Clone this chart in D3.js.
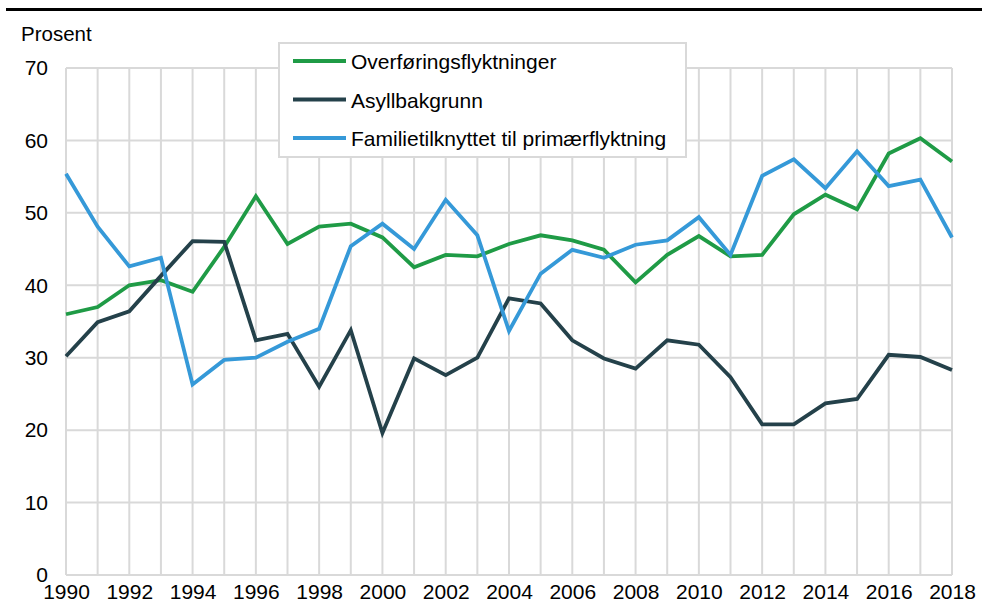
<!DOCTYPE html>
<html>
<head>
<meta charset="utf-8">
<script src="https://cdn.jsdelivr.net/npm/d3@7"></script>
<style>
  body { margin: 0; background: #fff; }
  text { font-family: "Liberation Sans", Arial, sans-serif; }
</style>
</head>
<body>
<div id="chart"></div>
<script>
// data
var years = d3.range(1990, 2019);
var overforing = [36.0, 37.0, 40.0, 40.7, 39.1, 45.3, 52.3, 45.7, 48.1, 48.5, 46.6, 42.5, 44.2, 44.0, 45.7,
  46.9, 46.2, 44.9, 40.4, 44.2, 46.8, 44.0, 44.2, 49.8, 52.5, 50.5, 58.2, 60.3, 57.1];
var asyl = [30.2, 34.9, 36.4, 41.3, 46.1, 46.0, 32.4, 33.3, 26.0, 33.8, 19.6, 29.9, 27.6, 30.0, 38.2,
  37.5, 32.4, 29.9, 28.5, 32.4, 31.8, 27.3, 20.8, 20.8, 23.7, 24.3, 30.4, 30.1, 28.3];
var familie = [55.4, 48.1, 42.6, 43.8, 26.3, 29.7, 30.0, 32.2, 34.0, 45.4, 48.5, 45.0, 51.8, 46.9, 33.7,
  41.6, 44.9, 43.8, 45.6, 46.2, 49.4, 44.2, 55.1, 57.4, 53.4, 58.5, 53.7, 54.6, 46.6];
var seriesNames = ["Overføringsflyktninger", "Asyllbakgrunn", "Familietilknyttet til primærflyktning"];
var colors = ["#1f9b46", "#24414a", "#3599d8"];
var yTicks = [0, 10, 20, 30, 40, 50, 60, 70];

var svgWidth = 982, svgHeight = 603;
var margin = { top: 68, right: 30, bottom: 28, left: 66 };
var chartWidth = svgWidth - margin.left - margin.right;
var chartHeight = svgHeight - margin.top - margin.bottom;

var svg = d3.select("#chart").append("svg")
  .attr("width", svgWidth)
  .attr("height", svgHeight);

// rule under the (cropped) title
svg.append("rect")
  .attr("x", 6).attr("y", 8)
  .attr("width", svgWidth - 6).attr("height", 3)
  .attr("fill", "#000");

var chartGroup = svg.append("g")
  .attr("transform", `translate(${margin.left}, ${margin.top})`);

var xScale = d3.scaleLinear().domain([1990, 2018]).range([0, chartWidth]);
var yScale = d3.scaleLinear().domain([0, 70]).range([chartHeight, 0]);

// grid
chartGroup.append("g")
  .selectAll("line")
  .data(years)
  .join("line")
  .attr("x1", d => xScale(d)).attr("x2", d => xScale(d))
  .attr("y1", 0).attr("y2", chartHeight)
  .attr("stroke", "#d9d9d9").attr("stroke-width", 2);

chartGroup.append("g")
  .selectAll("line")
  .data(yTicks)
  .join("line")
  .attr("x1", 0).attr("x2", chartWidth)
  .attr("y1", d => yScale(d)).attr("y2", d => yScale(d))
  .attr("stroke", "#d9d9d9").attr("stroke-width", 2);

// axes (labels only)
var bottomAxis = d3.axisBottom(xScale)
  .tickValues(years.filter(y => y % 2 === 0))
  .tickFormat(d3.format("d"))
  .tickSize(0).tickPadding(9);
var leftAxis = d3.axisLeft(yScale)
  .tickValues(yTicks)
  .tickSize(0).tickPadding(18);

chartGroup.append("g")
  .attr("transform", `translate(0, ${chartHeight})`)
  .call(bottomAxis)
  .call(g => g.select(".domain").remove())
  .selectAll("text")
  .style("font-size", "21px")
  .attr("fill", "#000");

chartGroup.append("g")
  .call(leftAxis)
  .call(g => g.select(".domain").remove())
  .selectAll("text")
  .style("font-size", "21px")
  .attr("fill", "#000");

svg.append("text")
  .attr("x", 21).attr("y", 41)
  .style("font-size", "20.5px")
  .text("Prosent");

// lines
var allSeries = [overforing, asyl, familie];
var line = d3.line()
  .x((d, i) => xScale(years[i]))
  .y(d => yScale(d));

chartGroup.selectAll("path.series")
  .data(allSeries)
  .join("path")
  .attr("class", "series")
  .attr("d", d => line(d))
  .attr("fill", "none")
  .attr("stroke", (d, i) => colors[i])
  .attr("stroke-width", 3.8);

// legend
var legend = svg.append("g").attr("transform", "translate(279, 43)");
legend.append("rect")
  .attr("width", 407).attr("height", 114)
  .attr("fill", "#fff")
  .attr("stroke", "#d9d9d9").attr("stroke-width", 2);

var items = legend.selectAll("g.item")
  .data(seriesNames)
  .join("g")
  .attr("transform", (d, i) => `translate(14, ${18 + i * 38.5})`);
items.append("line")
  .attr("x1", 0).attr("x2", 53)
  .attr("stroke", (d, i) => colors[i])
  .attr("stroke-width", 4);
items.append("text")
  .attr("x", 58).attr("y", 8)
  .style("font-size", "21px")
  .text(d => d);
</script>
</body>
</html>
